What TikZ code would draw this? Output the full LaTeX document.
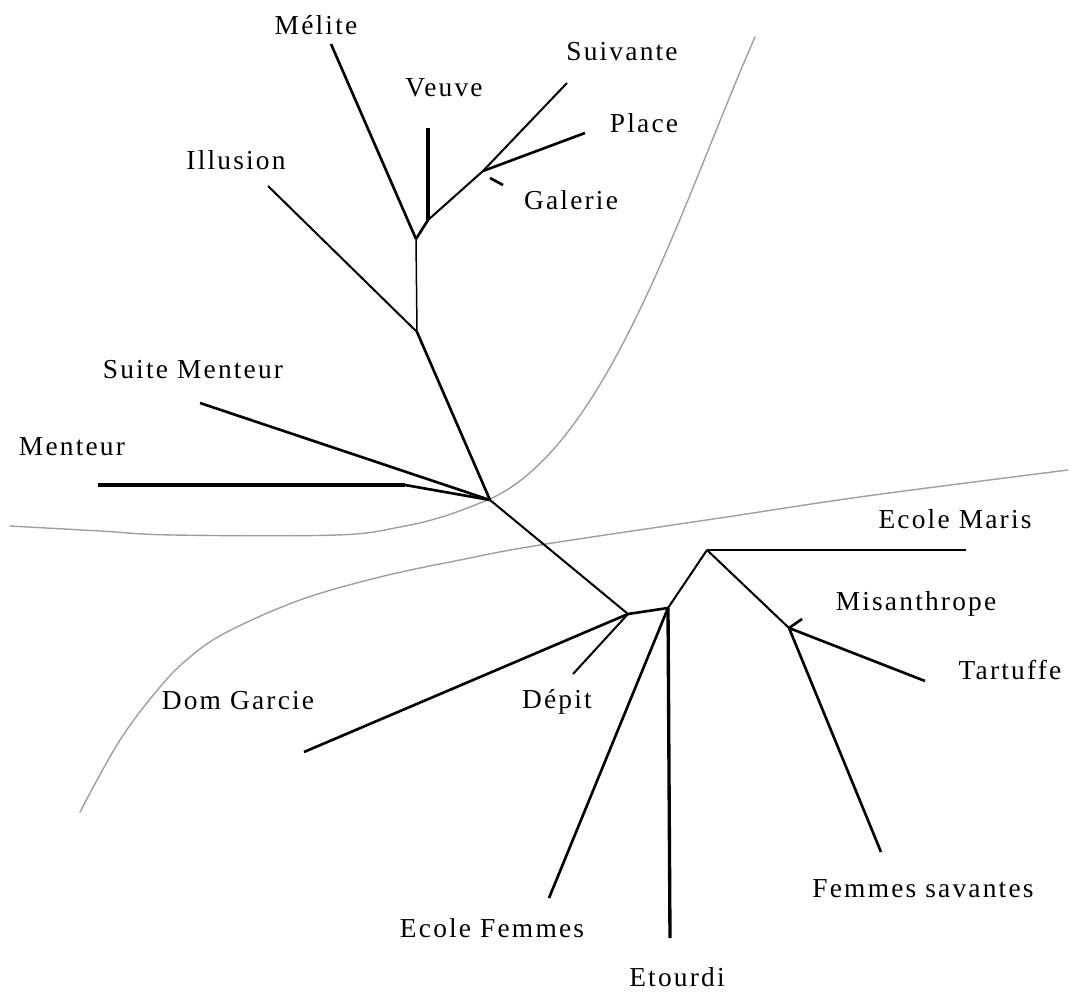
\documentclass[tikz,border=0pt]{standalone}
\usepackage{fontspec}
\setmainfont{Liberation Serif}[LetterSpace=8]
\begin{document}
\begin{tikzpicture}[x=0.02cm,y=-0.02cm,
  lbl/.style={font=\fontsize{15.6}{18}\selectfont, inner sep=0pt},
  brthin/.style={line width=0.85pt},
  br/.style={line width=1.15pt},
  brthick/.style={line width=1.5pt},
  brheavy/.style={line width=1.9pt},
  sep/.style={gray!75, line width=0.8pt, line cap=round}]
\useasboundingbox (0,0) rectangle (1072,996);
% separating curves
\draw[sep] plot[smooth, tension=0.6] coordinates {(10,526) (100,531) (173,535) (337,535) (400,527) (445,516) (490,499)};
\draw[sep] (490,499) .. controls (608.9,445.1) and (682.5,201.8) .. (755,37);
\draw[sep] plot[smooth, tension=0.6] coordinates {(80,812) (120,740) (160,687) (190,657) (227,632) (300,600) (380,577) (460,560) (540,545) (720,518) (867,496) (1068,470)};
% junctions
\coordinate (jG) at (483,171);
\coordinate (jV) at (428,220);
\coordinate (jM) at (416,239);
\coordinate (jI) at (417,332);
\coordinate (jT) at (490,500);
\coordinate (jD) at (628,614);
\coordinate (jE) at (668,608);
\coordinate (jEM) at (707,550);
\coordinate (jMi) at (789,628);
% leaf ends
\coordinate (eMelite) at (331,44);
\coordinate (eVeuve) at (428,128);
\coordinate (eSuiv) at (567,83);
\coordinate (ePlace) at (585,133);
\coordinate (eGalA) at (490,178);
\coordinate (eGalB) at (503,185);
\coordinate (eIll) at (268,186);
\coordinate (eSuite) at (200,403);
\coordinate (eMentA) at (98,485);
\coordinate (eMentB) at (405,485);
\coordinate (eDom) at (304,752);
\coordinate (eDep) at (573,674);
\coordinate (eEtou) at (670,938);
\coordinate (eEcF) at (549,898);
\coordinate (eEcM) at (966,550);
\coordinate (eMisA) at (802,619);
\coordinate (eTart) at (925,681);
\coordinate (eFS) at (881,852);
% branches
\draw[brthick] (eMelite) -- (jM);
\draw[brheavy] (eVeuve) -- (jV);
\draw[brthick] (jV) -- (jM);
\draw[br] (jV) -- (jG);
\draw[br] (jG) -- (eSuiv);
\draw[brthick] (jG) -- (ePlace);
\draw[brthick] (eGalA) -- (eGalB);
\draw[brthin] (jM) -- (jI);
\draw[br] (eIll) -- (jI);
\draw[brthick] (jI) -- (jT);
\draw[brthick] (eSuite) -- (jT);
\draw[brheavy] (eMentA) -- (eMentB);
\draw[brthick] (eMentB) -- (jT);
\draw[br] (jT) -- (jD);
\draw[brthick] (jD) -- (jE);
\draw[brthick] (jD) -- (eDom);
\draw[br] (jD) -- (eDep);
\draw[brheavy] (jE) -- (eEtou);
\draw[brthick] (jE) -- (eEcF);
\draw[br] (jE) -- (jEM);
\draw[brthin] (jEM) -- (eEcM);
\draw[br] (jEM) -- (jMi);
\draw[brthick] (jMi) -- (eMisA);
\draw[brthick] (jMi) -- (eTart);
\draw[brthick] (jMi) -- (eFS);
% labels
\node[lbl] (lMelite) at (316,25) {Mélite};
\node[lbl] (lVeuve) at (444,88) {Veuve};
\node[lbl] (lSuiv) at (622,52) {Suivante};
\node[lbl] (lPlace) at (644,123) {Place};
\node[lbl] (lGal) at (571,200) {Galerie};
\node[lbl] (lIll) at (236,160) {Illusion};
\node[lbl] (lSuite) at (193,370) {Suite Menteur};
\node[lbl] (lMent) at (72,447) {Menteur};
\node[lbl] (lEcM) at (955,519) {Ecole Maris};
\node[lbl] (lMis) at (916,604) {Misanthrope};
\node[lbl] (lTart) at (1010,670) {Tartuffe};
\node[lbl] (lFS) at (923,889) {Femmes savantes};
\node[lbl] (lDom) at (238,701) {Dom Garcie};
\node[lbl] (lDep) at (557,702) {Dépit};
\node[lbl] (lEcF) at (492,928) {Ecole Femmes};
\node[lbl] (lEtou) at (677,977) {Etourdi};
\end{tikzpicture}
\end{document}
